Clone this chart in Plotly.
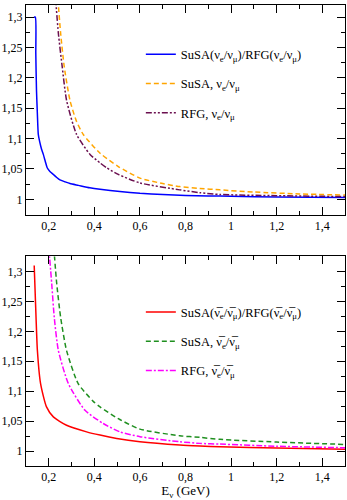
import plotly.graph_objects as go
from plotly.subplots import make_subplots

# top panel: neutrinos
susa_ratio_x = [0.135, 0.141, 0.143, 0.146, 0.150, 0.154, 0.160, 0.168, 0.176, 0.185, 0.193, 0.205,
                0.220, 0.235, 0.249, 0.270, 0.293, 0.330, 0.380, 0.425, 0.512, 0.600, 0.700, 0.800,
                0.900, 1.000, 1.200, 1.500]
susa_ratio_y = [1.300, 1.300, 1.240, 1.180, 1.140, 1.107, 1.095, 1.083, 1.074, 1.062, 1.052, 1.046,
                1.041, 1.036, 1.032, 1.029, 1.026, 1.023, 1.019, 1.0165, 1.0128, 1.010, 1.008, 1.0065,
                1.0057, 1.005, 1.004, 1.003]

susa_nu_x = [0.240, 0.252, 0.268, 0.293, 0.320, 0.351, 0.425, 0.505, 0.600, 0.700, 0.775, 0.863,
             0.951, 1.100, 1.300, 1.500]
susa_nu_y = [1.330, 1.2735, 1.218, 1.163, 1.130, 1.107, 1.076, 1.054, 1.035, 1.026, 1.021, 1.018,
             1.0156, 1.012, 1.009, 1.007]

rfg_nu_x = [0.230, 0.242, 0.259, 0.278, 0.322, 0.381, 0.425, 0.454, 0.505, 0.600, 0.775, 0.863,
            0.951, 1.200, 1.500]
rfg_nu_y = [1.330, 1.2735, 1.218, 1.163, 1.107, 1.074, 1.060, 1.052, 1.041, 1.027, 1.0156, 1.011,
            1.008, 1.006, 1.0045]

# bottom panel: antineutrinos
susa_ratio_bar_x = [0.136, 0.144, 0.150, 0.164, 0.190, 0.220, 0.278, 0.366, 0.425, 0.498, 0.600,
                    0.775, 0.863, 0.951, 1.200, 1.500]
susa_ratio_bar_y = [1.310, 1.2235, 1.168, 1.1126, 1.0737, 1.057, 1.043, 1.032, 1.0266, 1.021, 1.0155,
                    1.010, 1.0083, 1.007, 1.005, 1.003]

susa_bar_x = [0.222, 0.235, 0.252, 0.278, 0.329, 0.395, 0.425, 0.505, 0.600, 0.775, 0.863, 0.951,
              1.200, 1.500]
susa_bar_y = [1.340, 1.279, 1.2235, 1.168, 1.1126, 1.083, 1.0737, 1.054, 1.0366, 1.0255, 1.0228,
              1.0195, 1.015, 1.011]

rfg_bar_x = [0.200, 0.213, 0.224, 0.242, 0.286, 0.359, 0.439, 0.512, 0.600, 0.775, 0.863, 0.951,
             1.200, 1.500]
rfg_bar_y = [1.340, 1.279, 1.2235, 1.168, 1.1126, 1.068, 1.046, 1.032, 1.024, 1.0155, 1.0128, 1.0116,
             1.008, 1.0055]

NB = "\u03bd\u0305"
FONT = "Liberation Serif, Times New Roman, serif"

fig = make_subplots(rows=2, cols=1, vertical_spacing=0.091)

top = [
    (susa_ratio_x, susa_ratio_y, "SuSA(\u03bd<sub>e</sub>/\u03bd<sub>\u03bc</sub>)/RFG(\u03bd<sub>e</sub>/\u03bd<sub>\u03bc</sub>)", "#0000ff", "solid"),
    (susa_nu_x, susa_nu_y, "SuSA, \u03bd<sub>e</sub>/\u03bd<sub>\u03bc</sub>", "#ffa500", "5px,3px"),
    (rfg_nu_x, rfg_nu_y, "RFG, \u03bd<sub>e</sub>/\u03bd<sub>\u03bc</sub>", "#6b0f4f", "6px,2px,2px,2px,2px,2px"),
]
bottom = [
    (susa_ratio_bar_x, susa_ratio_bar_y, f"SuSA({NB}<sub>e</sub>/{NB}<sub>\u03bc</sub>)/RFG({NB}<sub>e</sub>/{NB}<sub>\u03bc</sub>)", "#ff0000", "solid"),
    (susa_bar_x, susa_bar_y, f"SuSA, {NB}<sub>e</sub>/{NB}<sub>\u03bc</sub>", "#1f8f1f", "5px,3px"),
    (rfg_bar_x, rfg_bar_y, f"RFG, {NB}<sub>e</sub>/{NB}<sub>\u03bc</sub>", "#ff00ff", "6px,2px,2px,2px"),
]

for i, (x, y, name, color, dash) in enumerate(top):
    fig.add_trace(go.Scatter(x=x, y=y, mode="lines", name=name, legend="legend", legendgroup=f"t{i}",
                             line=dict(color=color, width=1.5, dash=dash, shape="spline", smoothing=0.6)),
                  row=1, col=1)
for i, (x, y, name, color, dash) in enumerate(bottom):
    fig.add_trace(go.Scatter(x=x, y=y, mode="lines", name=name, legend="legend2", legendgroup=f"b{i}",
                             line=dict(color=color, width=1.5, dash=dash, shape="spline", smoothing=0.6)),
                  row=2, col=1)

axis_common = dict(showline=True, linecolor="black", linewidth=1, mirror="ticks", ticks="inside",
                   ticklen=8, tickwidth=1, tickcolor="black", showgrid=False, zeroline=False,
                   tickfont=dict(family=FONT, size=12, color="black"))
fig.update_xaxes(range=[0.1, 1.5], dtick=0.2, tick0=0,
                 minor=dict(ticks="inside", ticklen=4, dtick=0.1, tickcolor="black"), **axis_common)
fig.update_yaxes(dtick=0.05, tick0=1,
                 minor=dict(ticks="inside", ticklen=4, dtick=0.025, tickcolor="black"), **axis_common)
fig.update_yaxes(range=[0.975, 1.32], row=1, col=1)
fig.update_yaxes(range=[0.975, 1.325], row=2, col=1)
fig.update_xaxes(title=dict(text="E<sub>\u03bd</sub> (GeV)", font=dict(family=FONT, size=13, color="black"),
                            standoff=2), row=2, col=1)

legend_common = dict(bgcolor="rgba(0,0,0,0)", font=dict(family=FONT, size=12.5, color="black"),
                     tracegroupgap=10, itemwidth=30, xanchor="left", yanchor="top")
fig.update_layout(
    width=347, height=500,
    margin=dict(l=26, r=2, t=5, b=34),
    paper_bgcolor="white", plot_bgcolor="white",
    separators=", ",
    font=dict(family=FONT, color="black"),
    hovermode=False,
    legend=dict(x=0.36, y=0.925, **legend_common),
    legend2=dict(x=0.36, y=0.366, **legend_common),
)

fig.write_html("out.html", config={"displayModeBar": False},
               post_script="document.body.style.margin='0';document.body.style.overflow='hidden';")
